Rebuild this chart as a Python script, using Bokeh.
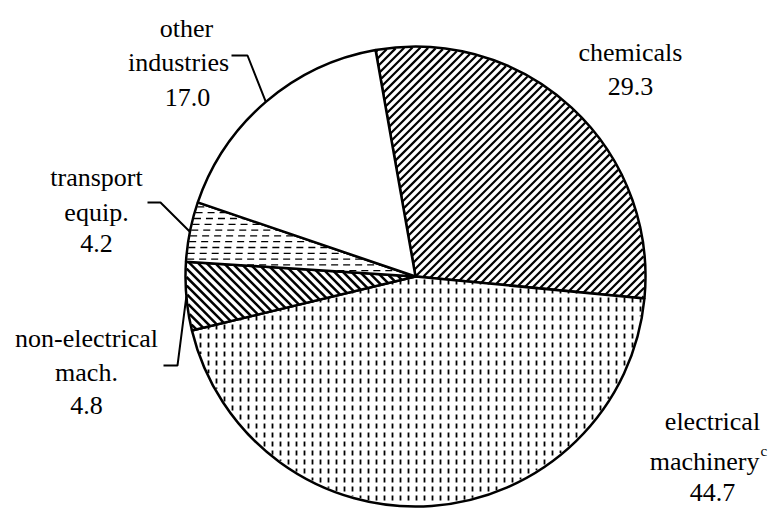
import math
from bokeh.plotting import figure
from bokeh.models import Range1d
from bokeh.core.properties import value
from bokeh.embed import file_html
from bokeh.resources import INLINE

# ---------------- data ----------------
categories = ["chemicals", "electrical machinery", "non-electrical mach.",
              "transport equip.", "other industries"]
shares = [29.3, 44.7, 4.8, 4.2, 17.0]
label_words = [["chemicals"], ["electrical", "machinery"], ["non-electrical", "mach."],
               ["transport", "equip."], ["other", "industries"]]

# ---------------- layout / style ----------------
W, H = 778, 509
CX, CY, R = 415, 276, 230          # page pixels
START_DEG = 100.0                  # first slice starts here, slices go clockwise
FONT_NAME = "Liberation Serif"
FS_PX = 26

# Times / Liberation Serif advance widths (1/1000 em) for centring text
ADV = {"a": 444, "c": 444, "d": 500, "e": 444, "h": 500, "i": 278, "l": 278,
       "m": 778, "n": 500, "o": 500, "p": 500, "q": 500, "r": 333, "s": 389,
       "t": 278, "u": 500, "y": 500, ".": 250, "-": 333}

def text_w(s, px=FS_PX):
    return sum(ADV.get(ch, 500) for ch in s) / 1000 * px

def dy(page_y):
    return H - page_y

# label anchors: centre x per line, baselines (page px)
label_pos = {
    "chemicals": ([630, 630], [52, 86]),
    "electrical machinery": ([712, 712, 712], [421, 461, 492]),
    "non-electrical mach.": ([86, 86, 86], [338, 372, 405]),
    "transport equip.": ([96, 96, 96], [177, 212, 243]),
    "other industries": ([186, 178, 187], [28, 62, 97]),
}
# leader elbows (page px): start, elbow ; end is computed on the pie edge
leader_pos = {
    "other industries": [(231, 55), (247, 55)],
    "transport equip.": [(147, 202), (160, 202)],
    "non-electrical mach.": [(163, 365), (177, 365)],
}
hatch_styles = {
    "chemicals": ("lines", (1, 1), 8.0, 2.2, "solid"),
    "electrical machinery": ("vdash", (8.0, 9.0, 5.0), None, 1.8, None),
    "non-electrical mach.": ("lines", (1, -1), 8.5, 2.5, "solid"),
    "transport equip.": ("lines", (1, 0), 5.8, 1.3, "7 5"),
    "other industries": (None, None, None, None, None),
}

p = figure(width=W, height=H, output_backend="svg", toolbar_location=None,
           x_range=Range1d(0, W), y_range=Range1d(0, H),
           x_axis_location=None, y_axis_location=None, min_border=0)
p.grid.visible = False
p.outline_line_color = None

# ---------------- labels (left aligned, centred by metrics) ----------------
for cat, words, v in zip(categories, label_words, shares):
    xs_c, bases = label_pos[cat]
    lines = words + [f"{v:.1f}"]
    for line, cx, b in zip(lines, xs_c, bases):
        if line == "machinery":
            x0 = 759 - text_w(line)
            p.text(x=[x0], y=[dy(b)], text=[line], text_baseline="alphabetic",
                   text_font=value(FONT_NAME), text_font_size=f"{FS_PX}px",
                   text_color="black")
            p.text(x=[760], y=[dy(b - 11)], text=["c"], text_baseline="alphabetic",
                   text_font=value(FONT_NAME), text_font_size="15px",
                   text_color="black")
        else:
            x0 = cx - text_w(line) / 2
            p.text(x=[x0], y=[dy(b)], text=[line], text_baseline="alphabetic",
                   text_font=value(FONT_NAME), text_font_size=f"{FS_PX}px",
                   text_color="black")


def clip_to_sector(px, py, dx, dyv, t0, t1, cx, cy, r, a_lo, a_hi):
    b = (px - cx) * dx + (py - cy) * dyv
    c = (px - cx) ** 2 + (py - cy) ** 2 - r * r
    disc = b * b - c
    if disc <= 0:
        return None
    t0 = max(t0, -b - math.sqrt(disc))
    t1 = min(t1, -b + math.sqrt(disc))
    for ang, sgn in ((a_lo, 1), (a_hi, -1)):
        u = (math.cos(ang), math.sin(ang))
        f0 = sgn * (u[0] * (py - cy) - u[1] * (px - cx))
        f1 = sgn * (u[0] * dyv - u[1] * dx)
        if abs(f1) < 1e-12:
            if f0 < 0:
                return None
            continue
        tz = -f0 / f1
        if f1 > 0:
            t0 = max(t0, tz)
        else:
            t1 = min(t1, tz)
    if t1 - t0 <= 0.5:
        return None
    return t0, t1


def sector_lines(cx, cy, r, a_lo, a_hi, d, spacing):
    dx, dyv = d
    n = math.hypot(dx, dyv)
    dx, dyv = dx / n, dyv / n
    nx, ny = -dyv, dx
    perp = spacing * abs(nx) if abs(dyv) > 1e-9 and abs(dx) > 1e-9 else spacing
    xs, ys = [], []
    k = -int(r / perp) - 1
    while k * perp <= r:
        off = k * perp
        k += 1
        px, py = cx + nx * off, cy + ny * off
        res = clip_to_sector(px, py, dx, dyv, -1e9, 1e9, cx, cy, r, a_lo, a_hi)
        if res:
            t0, t1 = res
            xs.append([px + dx * t0, px + dx * t1])
            ys.append([py + dyv * t0, py + dyv * t1])
    return xs, ys


def sector_vdashes(cx, cy, r, a_lo, a_hi, colw, period, dlen):
    xs, ys = [], []
    gx = math.floor((cx - r) / colw) * colw
    while gx <= cx + r:
        gy = math.floor((cy - r) / period) * period
        while gy <= cy + r:
            res = clip_to_sector(gx, gy, 0.0, 1.0, 0.0, dlen, cx, cy, r, a_lo, a_hi)
            if res:
                xs.append([gx, gx])
                ys.append([gy + res[0], gy + res[1]])
            gy += period
        gx += colw
    return xs, ys


total = sum(shares)
cum = 0.0
mid_angles = {}
for cat, v in zip(categories, shares):
    a_hi = math.radians(START_DEG - cum / total * 360)
    a_lo = math.radians(START_DEG - (cum + v) / total * 360)
    mid_angles[cat] = (a_hi + a_lo) / 2
    cum += v
    kind, d, sc, wt, dash = hatch_styles[cat]
    p.wedge(x=CX, y=dy(CY), radius=R, start_angle=a_lo, end_angle=a_hi,
            fill_color="white", line_color=None)
    if kind == "lines":
        hx, hy = sector_lines(CX, dy(CY), R - 1, a_lo, a_hi, d, sc)
        p.multi_line(hx, hy, line_color="black", line_width=wt, line_dash=dash)
    elif kind == "vdash":
        hx, hy = sector_vdashes(CX, dy(CY), R - 1.5, a_lo, a_hi, *d)
        p.multi_line(hx, hy, line_color="black", line_width=wt)
    p.wedge(x=CX, y=dy(CY), radius=R, start_angle=a_lo, end_angle=a_hi,
            fill_color=None, line_color="black", line_width=2.5)

# leader lines
for cat, pts in leader_pos.items():
    a = mid_angles[cat]
    ex, ey = CX + R * math.cos(a), dy(CY) + R * math.sin(a)
    p.line([pts[0][0], pts[1][0], ex], [dy(pts[0][1]), dy(pts[1][1]), ey],
           line_color="black", line_width=2)

open("out.html", "w").write(file_html(p, INLINE))
